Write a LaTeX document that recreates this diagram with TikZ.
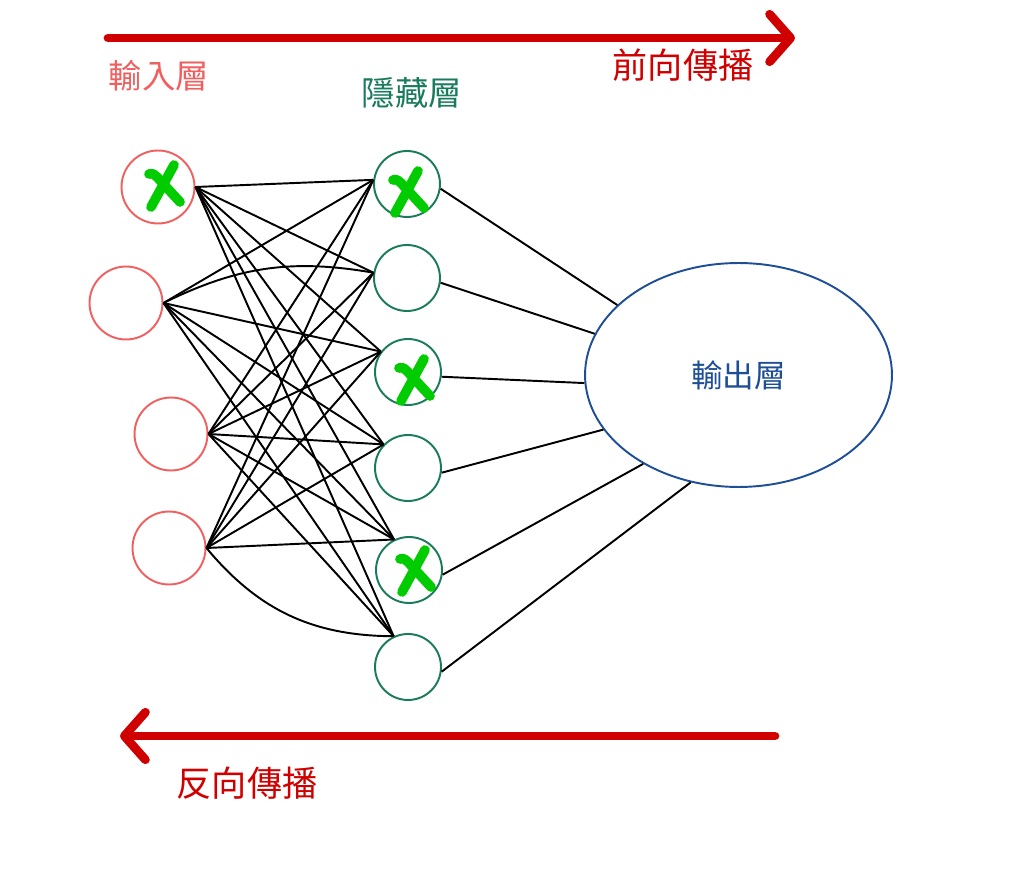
\documentclass[tikz,border=0pt]{standalone}
\usepackage{fontspec}
\newfontfamily\cjk{Noto Sans CJK TC}
\usetikzlibrary{shapes.geometric,arrows.meta}
\definecolor{inred}{RGB}{240,96,96}
\definecolor{hidgreen}{RGB}{26,122,92}
\definecolor{outblue}{RGB}{30,78,150}
\definecolor{flowred}{RGB}{208,0,0}
\definecolor{dropgreen}{RGB}{0,204,0}

\begin{document}
\begin{tikzpicture}[x=0.02cm,y=-0.02cm,
    inunit/.style={circle,draw=inred,line width=1.1pt,minimum size=1.46cm,inner sep=0pt},
    hidunit/.style={circle,draw=hidgreen,line width=1.1pt,minimum size=1.32cm,inner sep=0pt},
    outunit/.style={ellipse,draw=outblue,line width=1.1pt,minimum width=6.14cm,minimum height=4.48cm,inner sep=0pt,text=outblue},
    link/.style={line width=1.1pt},
    flow/.style={line width=5pt,flowred,line cap=round,-{Straight Barb[length=0.42cm,width=0.95cm,round]}},
    lbl/.style={font=\cjk\fontsize{19}{19}\selectfont},
    xstroke/.style={line width=5.5pt,dropgreen,line cap=round,line join=round},
    dropx/.pic={\draw[xstroke] (-14,-10) .. controls (-10,-10.5) .. (-6,-7) -- (17,18);
                \draw[xstroke] (11,-19) -- (-12,23);}]
    \useasboundingbox (0,0) rectangle (1024,871);

    \node [inunit] (I1) at (158,187) {};
    \node [inunit] (I2) at (126,303) {};
    \node [inunit] (I3) at (171,434) {};
    \node [inunit] (I4) at (169,548) {};

    \node [hidunit] (H1) at (407,184) {};
    \node [hidunit] (H2) at (407,278) {};
    \node [hidunit] (H3) at (408,372) {};
    \node [hidunit] (H4) at (408,468) {};
    \node [hidunit] (H5) at (409,570) {};
    \node [hidunit] (H6) at (408,667) {};

    \node [outunit,lbl,font=\cjk\fontsize{18}{18}\selectfont] (O) at (738.5,375) {輸出層};

    \foreach \j/\a in {1/173,2/171,3/143,4/136,5/116,6/115}
        \coordinate (h\j) at (H\j.\a);

    \foreach \j in {1,...,6}{
        \draw [link] (I1.east)--(h\j);
        \draw [link] (I3.east)--(h\j);
    }
    \foreach \j in {1,3,4,5,6}
        \draw [link] (I2.east)--(h\j);
    \draw [link] (I2.east) to[bend left=18] (h2);
    \foreach \j in {1,...,5}
        \draw [link] (I4.east)--(h\j);
    \draw [link] (I4.east) to[bend right=25] (h6);

    \foreach \j/\a in {1/150,2/164,3/183,4/202,5/223,6/246}
        \draw [link] (H\j.-8)--(O.\a);

    \pic at (163,184) {dropx};
    \pic at (407,190) {dropx};
    \pic at (413,378) {dropx};
    \pic at (414,569) {dropx};

    \coordinate (fwdstart) at (108,38);
    \coordinate (fwdend) at (795,38);
    \coordinate (bwdstart) at (775,736);
    \coordinate (bwdend) at (120,736);
    \draw [flow] (fwdstart)--(fwdend);
    \draw [flow] (bwdstart)--(bwdend);

    \node [lbl,text=inred] (inlabel) at (159,76) {輸入層};
    \node [lbl,text=hidgreen] (hidlabel) at (412,93) {隱藏層};
    \node [lbl,text=flowred,font=\cjk\fontsize{20}{20}\selectfont] (fwdlabel) at (683,65) {前向傳播};
    \node [lbl,text=flowred,font=\cjk\fontsize{20}{20}\selectfont] (bwdlabel) at (247,783) {反向傳播};

\end{tikzpicture}
\end{document}
